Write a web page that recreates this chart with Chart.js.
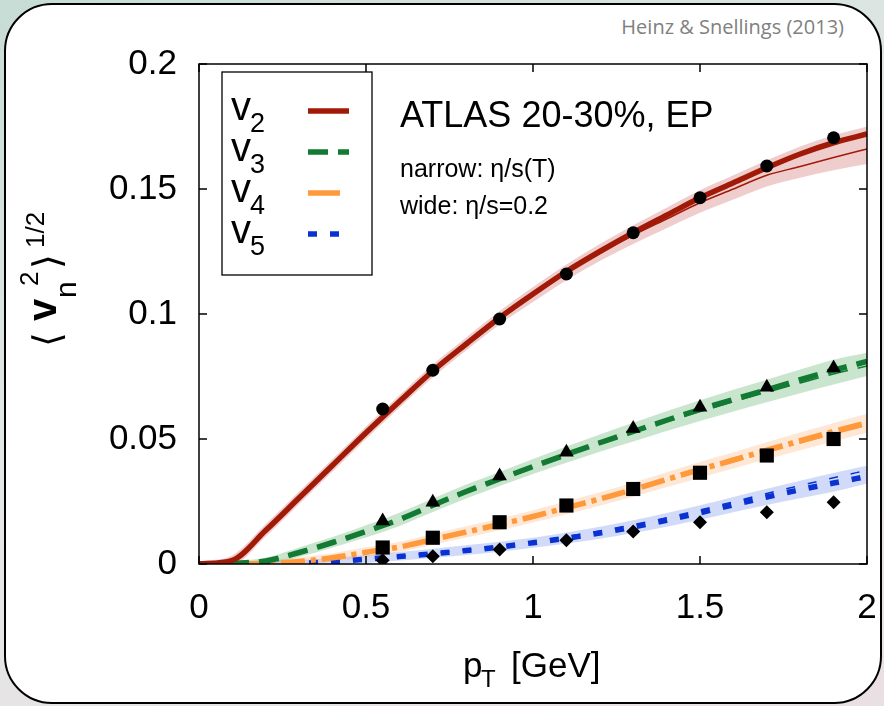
<!DOCTYPE html>
<html>
<head>
<meta charset="utf-8">
<script src="https://cdn.jsdelivr.net/npm/chart.js@4.4.1/dist/chart.umd.min.js"></script>
<style>
    html, body { margin: 0; padding: 0; }
    body {
        width: 884px; height: 706px; overflow: hidden; position: relative;
        background: linear-gradient(160deg, #c7dcd5 0%, #e3e8e6 45%, #eadfe3 100%);
    }
    #frame {
        position: absolute; left: 4px; top: 3px; width: 874px; height: 697px;
        background: #fff; border: 2px solid #000; border-radius: 48px;
    }
    #credit {
        position: absolute; right: 40px; top: 13px;
        font: 20px "Open Sans", "Liberation Sans", sans-serif; color: #808080;
    }
    #chart { position: absolute; left: 0; top: 0; }
</style>
</head>
<body>
<div id="frame"></div>
<div id="credit">Heinz &amp; Snellings (2013)</div>
<canvas id="chart" width="884" height="706"></canvas>
<script>
// model curves, pT grid in GeV
var pT = [0, 0.1, 0.2, 0.3, 0.4, 0.5, 0.6, 0.7, 0.8, 0.9, 1.0, 1.1, 1.2, 1.3, 1.4, 1.5, 1.6, 1.7, 1.8, 1.9, 2.0];

var v2Wide   = [0, 0.0015, 0.0135, 0.0265, 0.0395, 0.0525, 0.065, 0.0772, 0.088, 0.0985, 0.108, 0.117, 0.125, 0.1325, 0.1395, 0.1465, 0.1525, 0.1585, 0.164, 0.1685, 0.172];
var v2Narrow = [0, 0.0015, 0.0135, 0.0265, 0.0395, 0.0525, 0.065, 0.0772, 0.088, 0.0985, 0.1075, 0.1165, 0.1245, 0.1315, 0.138, 0.1445, 0.150, 0.1555, 0.159, 0.1626, 0.166];
var v2BandHi = [0.001, 0.0035, 0.016, 0.029, 0.042, 0.055, 0.0675, 0.0798, 0.0906, 0.1012, 0.1108, 0.1198, 0.128, 0.1355, 0.1425, 0.1495, 0.1555, 0.1615, 0.167, 0.1715, 0.175];
var v2BandLo = [0, 0, 0.011, 0.024, 0.037, 0.050, 0.0625, 0.0746, 0.0854, 0.0958, 0.1048, 0.1135, 0.1212, 0.128, 0.1343, 0.1405, 0.1458, 0.151, 0.1545, 0.1575, 0.160];

var v3Wide   = [0, 0.0003, 0.0012, 0.0046, 0.0086, 0.013, 0.0178, 0.0235, 0.029, 0.034, 0.039, 0.0438, 0.0485, 0.053, 0.0575, 0.0618, 0.0658, 0.0697, 0.0737, 0.0775, 0.081];
var v3Narrow = [0, 0.0003, 0.0012, 0.0046, 0.0086, 0.013, 0.0178, 0.0235, 0.029, 0.034, 0.039, 0.0436, 0.0482, 0.0526, 0.0569, 0.061, 0.0649, 0.0687, 0.0724, 0.076, 0.0792];
var v3BandHi = [0.0008, 0.0012, 0.0025, 0.0066, 0.0108, 0.0155, 0.0205, 0.0262, 0.0318, 0.0368, 0.042, 0.047, 0.0518, 0.0565, 0.0611, 0.0655, 0.0697, 0.0737, 0.0778, 0.0817, 0.0845];
var v3BandLo = [0, 0, 0, 0.0028, 0.0066, 0.0106, 0.0152, 0.0208, 0.0262, 0.0312, 0.036, 0.0405, 0.0449, 0.049, 0.0532, 0.0572, 0.061, 0.0647, 0.0683, 0.0718, 0.0752];

var v4Wide   = [0, 0, 0.0002, 0.001, 0.0025, 0.0047, 0.0068, 0.0098, 0.0128, 0.0158, 0.019, 0.0225, 0.026, 0.0298, 0.0338, 0.0378, 0.0416, 0.0455, 0.0493, 0.053, 0.0565];
var v4Narrow = [0, 0, 0.0002, 0.001, 0.0025, 0.0046, 0.0067, 0.0096, 0.0126, 0.0155, 0.0187, 0.0221, 0.0256, 0.0293, 0.0332, 0.0371, 0.0409, 0.0447, 0.0484, 0.052, 0.0555];
var v4BandHi = [0.0006, 0.0008, 0.0015, 0.0026, 0.0043, 0.0067, 0.0089, 0.012, 0.0151, 0.0182, 0.0215, 0.0251, 0.0287, 0.0326, 0.0367, 0.0408, 0.0447, 0.0487, 0.0526, 0.0564, 0.0601];
var v4BandLo = [0, 0, 0, 0, 0.001, 0.0028, 0.0048, 0.0077, 0.0106, 0.0135, 0.0166, 0.0199, 0.0233, 0.0269, 0.0307, 0.0345, 0.0382, 0.0419, 0.0455, 0.049, 0.0525];

var v5Wide   = [0, 0, 0, 0.0003, 0.0009, 0.0019, 0.003, 0.0041, 0.0054, 0.0068, 0.0085, 0.0103, 0.0124, 0.0148, 0.0175, 0.0205, 0.0237, 0.0268, 0.0297, 0.0324, 0.035];
var v5Narrow = [0, 0, 0, 0.0003, 0.0009, 0.002, 0.0031, 0.0043, 0.0057, 0.0072, 0.009, 0.011, 0.0132, 0.0157, 0.0185, 0.0216, 0.0249, 0.0282, 0.0314, 0.0345, 0.0375];
var v5BandHi = [0.001, 0.001, 0.0012, 0.0016, 0.0024, 0.0036, 0.0048, 0.0061, 0.0075, 0.0089, 0.0105, 0.0126, 0.0149, 0.0175, 0.0204, 0.0235, 0.0268, 0.0301, 0.0333, 0.0364, 0.0393];
var v5BandLo = [0, 0, 0, 0, 0, 0.0004, 0.0014, 0.0024, 0.0036, 0.0049, 0.0065, 0.0082, 0.0101, 0.0124, 0.0149, 0.0177, 0.0207, 0.0236, 0.0263, 0.0289, 0.0322];

// ATLAS 20-30% EP data
var pTAtlas = [0.55, 0.7, 0.9, 1.1, 1.3, 1.5, 1.7, 1.9];
var v2Atlas = [0.062, 0.0775, 0.098, 0.116, 0.1325, 0.1465, 0.1592, 0.1705];
var v3Atlas = [0.0172, 0.0247, 0.0352, 0.0447, 0.0542, 0.0627, 0.0707, 0.0784];
var v4Atlas = [0.0066, 0.0105, 0.0167, 0.0234, 0.030, 0.0365, 0.0434, 0.050];
var v5Atlas = [0.0015, 0.0031, 0.0058, 0.0095, 0.013, 0.0167, 0.0207, 0.0247];

var harmonics = ["2", "3", "4", "5"];
var lineColors = ["#a11a08", "#127a32", "#ff9a3c", "#0a32d2"];
var bandColors = ["rgba(205,90,90,0.30)", "rgba(60,160,80,0.28)", "rgba(255,160,90,0.25)", "rgba(70,110,230,0.25)"];
var dashes = [[], [20, 10], [24, 6, 5, 6], [9, 13]];
var markers = ["circle", "triangle", "rect", "rectRot"];
var markerSizes = [6.5, 8.5, 10, 7];

var FONT = "'Liberation Sans', Arial, sans-serif";

function pts(xs, ys) {
    return xs.map(function (x, i) { return { x: x, y: ys[i] }; });
}
function plainNum(v) {
    return String(Math.round(v * 100) / 100);
}

var wide = [v2Wide, v3Wide, v4Wide, v5Wide];
var narrow = [v2Narrow, v3Narrow, v4Narrow, v5Narrow];
var bandHi = [v2BandHi, v3BandHi, v4BandHi, v5BandHi];
var bandLo = [v2BandLo, v3BandLo, v4BandLo, v5BandLo];
var atlas = [v2Atlas, v3Atlas, v4Atlas, v5Atlas];

var datasets = [];
for (var i = 0; i < 4; i++) {
    // band (upper edge fills down to the next dataset)
    datasets.push({
        data: pts(pT, bandHi[i]), fill: '+1', backgroundColor: bandColors[i],
        borderWidth: 0, pointRadius: 0, cubicInterpolationMode: 'monotone', order: 4
    });
    datasets.push({
        data: pts(pT, bandLo[i]), fill: false, borderWidth: 0, pointRadius: 0,
        cubicInterpolationMode: 'monotone', order: 4
    });
    // narrow: thin line
    datasets.push({
        data: pts(pT, narrow[i]), borderColor: lineColors[i], borderWidth: 1.5,
        borderDash: dashes[i], pointRadius: 0, fill: false,
        cubicInterpolationMode: 'monotone', order: 3
    });
    // wide: thick line
    datasets.push({
        data: pts(pT, wide[i]), borderColor: lineColors[i], borderWidth: 5.5,
        borderDash: dashes[i], borderCapStyle: 'butt', pointRadius: 0, fill: false,
        cubicInterpolationMode: 'monotone', order: 2
    });
    // data points
    datasets.push({
        data: pts(pTAtlas, atlas[i]), showLine: false, pointStyle: markers[i],
        pointRadius: markerSizes[i], backgroundColor: '#000', borderColor: '#000',
        borderWidth: 0, order: 1
    });
}

var overlay = {
    id: 'overlay',
    afterDraw: function (chart) {
        var c = chart.ctx, a = chart.chartArea, xs = chart.scales.x, ys = chart.scales.y;
        c.save();
        // frame + mirrored inward ticks
        c.strokeStyle = '#000';
        c.lineWidth = 1.5;
        c.strokeRect(a.left, a.top, a.right - a.left, a.bottom - a.top);
        c.beginPath();
        xs.ticks.forEach(function (t) {
            var px = xs.getPixelForValue(t.value);
            c.moveTo(px, a.bottom); c.lineTo(px, a.bottom - 8);
            c.moveTo(px, a.top); c.lineTo(px, a.top + 8);
        });
        ys.ticks.forEach(function (t) {
            var py = ys.getPixelForValue(t.value);
            c.moveTo(a.left, py); c.lineTo(a.left + 8, py);
            c.moveTo(a.right, py); c.lineTo(a.right - 8, py);
        });
        c.stroke();

        // legend box
        c.fillStyle = '#fff';
        c.fillRect(222, 72, 150, 203);
        c.lineWidth = 1.3;
        c.strokeRect(222, 72, 150, 203);
        for (var k = 0; k < 4; k++) {
            var base = 120 + k * 41;
            c.fillStyle = '#000';
            c.textBaseline = 'alphabetic';
            c.textAlign = 'left';
            c.font = '40px ' + FONT;
            c.fillText('v', 231, base);
            c.font = '27px ' + FONT;
            c.fillText(harmonics[k], 250, base + 12);
            c.beginPath();
            c.setLineDash(k == 2 ? [] : dashes[k]);
            c.strokeStyle = lineColors[k];
            c.lineWidth = 5.5;
            c.moveTo(308, base - 9);
            c.lineTo(k == 2 ? 340 : 349, base - 9);
            c.stroke();
        }
        c.setLineDash([]);

        // annotations
        c.fillStyle = '#000';
        c.font = '36px ' + FONT;
        c.fillText('ATLAS 20-30%, EP', 400, 127);
        c.font = '25px ' + FONT;
        c.fillText('narrow: \u03b7/s(T)', 400, 177);
        c.fillText('wide: \u03b7/s=0.2', 400, 214);

        // x title
        c.font = '35px ' + FONT;
        c.fillText('p', 463, 677);
        c.font = '24px ' + FONT;
        c.fillText('T', 481, 687);
        c.font = '35px ' + FONT;
        c.fillText('[GeV]', 511, 677);

        // y title, rotated
        c.translate(56, 345);
        c.rotate(-Math.PI / 2);
        c.font = '38px "DejaVu Sans", sans-serif';
        c.fillText('\u27e8', -2, 4);
        c.font = 'bold 40px ' + FONT;
        c.fillText('v', 24, 0);
        c.font = '30px ' + FONT;
        c.fillText('n', 47, 20);
        c.font = '26px ' + FONT;
        c.fillText('2', 59, -18);
        c.font = '38px "DejaVu Sans", sans-serif';
        c.fillText('\u27e9', 76, 4);
        c.font = '26px ' + FONT;
        c.fillText('1/2', 97, -12);
        c.restore();
    }
};

new Chart(document.getElementById('chart'), {
    type: 'line',
    data: { datasets: datasets },
    options: {
        responsive: false,
        animation: false,
        layout: { padding: { left: 0, right: 17, top: 64, bottom: 0 } },
        plugins: { legend: { display: false }, tooltip: { enabled: false } },
        scales: {
            x: {
                type: 'linear', min: 0, max: 2,
                grid: { display: false, drawTicks: false },
                border: { display: false },
                ticks: { stepSize: 0.5, padding: 23, maxRotation: 0, color: '#000', font: { family: FONT, size: 35 }, callback: plainNum },
                afterFit: function (s) { s.height = 142; s.paddingLeft = 0; s.paddingRight = 0; }
            },
            y: {
                min: 0, max: 0.2,
                grid: { display: false, drawTicks: false },
                border: { display: false },
                ticks: { stepSize: 0.05, padding: 22, color: '#000', font: { family: FONT, size: 35 }, callback: plainNum },
                afterFit: function (s) { s.width = 199; s.paddingTop = 0; s.paddingBottom = 0; }
            }
        }
    },
    plugins: [overlay]
});
</script>
</body>
</html>
